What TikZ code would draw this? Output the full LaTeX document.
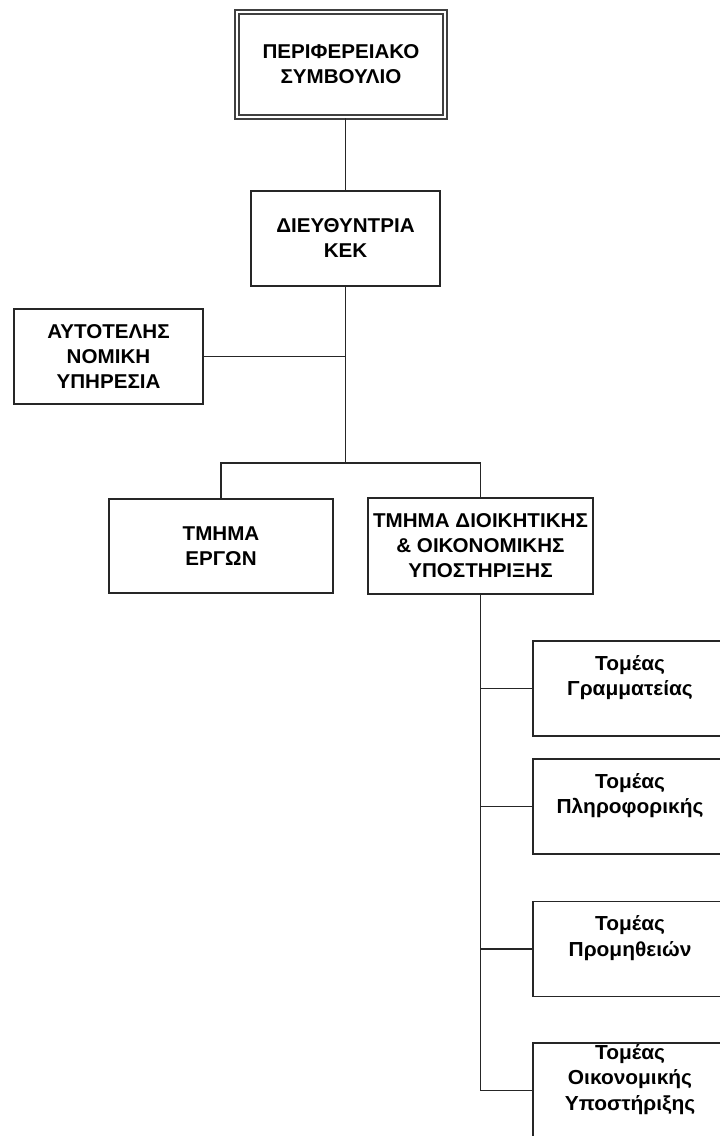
\documentclass[tikz,border=0pt]{standalone}
\usepackage{fontspec}
\setmainfont{Liberation Sans}[FakeStretch=1.03]
\begin{document}
\begin{tikzpicture}[x=1pt,y=-1pt,
  ln/.style={draw=black!85, line width=1.5pt},
  box/.style={ln, fill=white, align=center, inner sep=0pt,
    font=\bfseries\fontsize{20}{25}\selectfont},
  topbox/.style={box, draw=black!75, line width=1.6pt, double=white, double distance=2.5pt},
  sbox/.style={ln, fill=white, minimum width=194, minimum height=95, inner sep=0pt},
  lbl/.style={align=center, inner sep=0pt, yshift=11pt,
    font=\bfseries\fontsize{20.3}{25.5}\selectfont}]
\useasboundingbox (0,0) rectangle (720,1136);
\fill[white] (0,0) rectangle (720,1136);

% nodes
\node[topbox, minimum width=208, minimum height=105] (top) at (341,64.5) {ΠΕΡΙΦΕΡΕΙΑΚΟ\\ΣΥΜΒΟΥΛΙΟ};
\node[box, minimum width=189, minimum height=95] (dir) at (345.5,238.5) {ΔΙΕΥΘΥΝΤΡΙΑ\\ΚΕΚ};
\node[box, minimum width=189, minimum height=95] (legal) at (108.5,356.5) {ΑΥΤΟΤΕΛΗΣ\\ΝΟΜΙΚΗ\\ΥΠΗΡΕΣΙΑ};
\node[box, minimum width=224, minimum height=94] (erga) at (221,546) {ΤΜΗΜΑ\\ΕΡΓΩΝ};
\node[box, minimum width=225, minimum height=96] (dioik) at (480.5,546) {ΤΜΗΜΑ ΔΙΟΙΚΗΤΙΚΗΣ\\\& ΟΙΚΟΝΟΜΙΚΗΣ\\ΥΠΟΣΤΗΡΙΞΗΣ};

\node[sbox] (s1) at (630,688.5) {};
\node[sbox] (s2) at (630,806.5) {};
\node[sbox] (s3) at (630,949) {};
\node[sbox] (s4) at (630,1090.5) {};
\node[lbl] (t1) at (s1.center) {Τομέας\\Γραμματείας};
\node[lbl] (t2) at (s2.center) {Τομέας\\Πληροφορικής};
\node[lbl] (t3) at (s3.center) {Τομέας\\Προμηθειών};
\node[lbl] (t4) at (s4.center) {Τομέας\\Οικονομικής\\Υποστήριξης};

% connectors
\coordinate (bar) at (345.5,463);
\draw[ln] (dir.north) -- (dir.north |- top.south);
\draw[ln] (dir.south) -- (bar);
\draw[ln] (legal.east) -- (legal.east -| bar);
\draw[ln] (erga.north) -- (erga.north |- bar) -- (dioik.north |- bar) -- (dioik.north);
\draw[ln] (dioik.south) |- (s4.west);
\draw[ln] (s1.west) -- (s1.west -| dioik.south);
\draw[ln] (s2.west) -- (s2.west -| dioik.south);
\draw[ln] (s3.west) -- (s3.west -| dioik.south);
\end{tikzpicture}
\end{document}
